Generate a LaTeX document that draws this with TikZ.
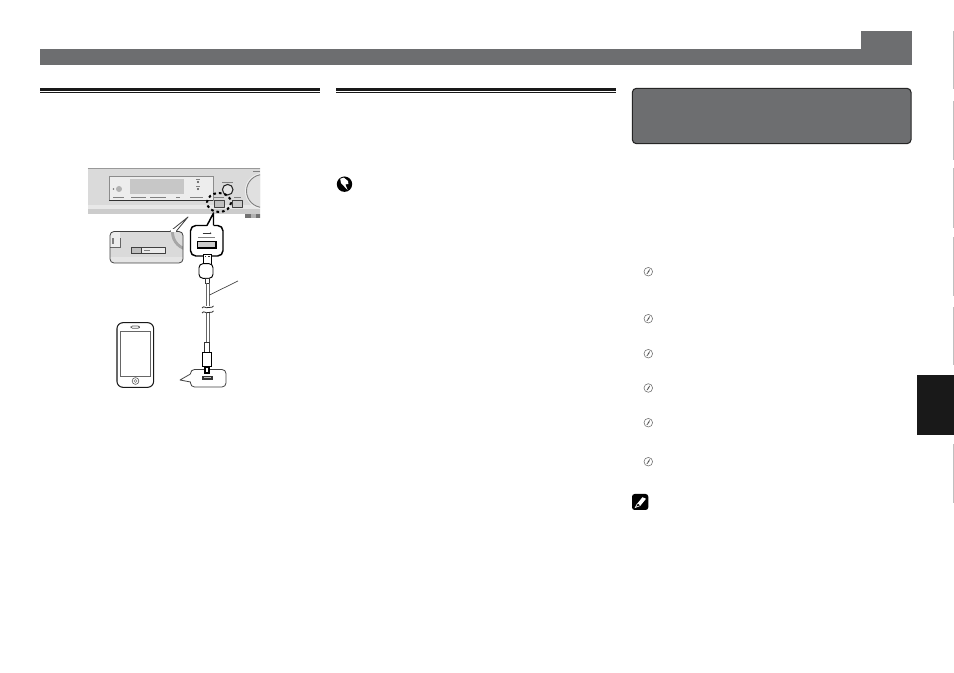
\documentclass[tikz,border=0pt]{standalone}
\definecolor{pagegray}{HTML}{6D6E70}
\definecolor{panelgray}{HTML}{DADADA}
\tikzset{
  band/.style={fill=pagegray,draw=none},
  sideline/.style={draw=black!25,line width=.9pt},
  device/.style={draw=black!75,line width=.45pt,line join=round},
  callout/.style={draw=black!75,line width=.6pt,rounded corners=3pt,line join=round},
  fineprint/.style={fill=black!50,draw=none},
  cable/.style={draw=black!60,line width=.55pt},
}
\newcommand{\tipmark}[2]{%
  \draw[black!55,line width=.45pt] (#1,#2) circle (4.3);
  \draw[black!70,line width=.5pt] (#1+1.5,#2-2.2) -- (#1-.1,#2) -- (#1+.4,#2) -- (#1-1.5,#2+2.2);
}
\begin{document}
\begin{tikzpicture}[x=.75pt,y=-.75pt]
  \useasboundingbox (0,0) rectangle (954,673);

  % header
  \fill[band] (40,49) rectangle (912,65);
  \fill[band] (861,31) rectangle (912,49);

  % column rules
  \foreach \xa/\xb in {40/320,336/616} {
    \fill[black!90] (\xa,88.3) rectangle (\xb,90.8);
    \fill[black!90] (\xa,91.7) rectangle (\xb,92.4);
  }

  % grey title box
  \node[draw=black!85,line width=.8pt,fill=pagegray,rounded corners=3pt,minimum width=209pt,
        minimum height=41.5pt,inner sep=0pt] (titlebox) at (771.7,116) {};

  % side tabs
  \foreach \ya/\yb in {31/89.5,101/160,168/228,237/296,307/365,444/503}
    \draw[sideline] (953.2,\ya) -- (953.2,\yb);
  \fill[black!90] (917,375) rectangle (954,435);

  % receiver front panel
  \begin{scope}
    \clip (87,160) rectangle (260,225);
    \fill[panelgray] (87.5,169) rectangle (262,205);
    \fill[black!9] (87.5,205) rectangle (262,209);
    \fill[black!20] (87.5,209) rectangle (262,214);
    \draw[black!40,line width=.5pt] (87.5,168.8) -- (262,168.8);
    \fill[black!55] (245,214) rectangle (262,218.5);
    \fill[black!30] (251,214) rectangle (256,218.5);
    \fill[black!7] (109.3,176.7) rectangle (213,200.7);
    \draw[black!45,line width=.4pt] (109.3,200.7) -- (109.3,176.7) -- (213,176.7) -- (213,200.7);
    \draw[black!80,line width=.5pt] (109.3,200.7) -- (213,200.7);
    \fill[black!22] (130,179) rectangle (184.3,194);
    \fill[black!30] (119,189) circle (3);
    \fill[black!55] (113.5,189) circle (.9);
    \foreach \xa/\xb in {113/124,131/146,150/166,176/180,190/203}
      \fill[fineprint] (\xa,196.6) rectangle (\xb,198.2);
    \foreach \yy in {182,189}
      \fill[black!70] (198,\yy) circle (1.2);
    \fill[fineprint] (196,178.6) rectangle (200,179.6);
    \fill[fineprint] (196,185.6) rectangle (200,186.6);
    % volume knob and input button
    \fill[black!6] (263,191) circle (18);
    \draw[black!50,line width=.7pt,fill=black!12] (263,191) circle (16.5);
    \fill[fineprint] (253,171) rectangle (260,172.2);
    \draw[black!85,line width=.8pt,fill=black!10] (227.7,189.7) circle (5.3);
    \fill[fineprint] (222,182) rectangle (233,183);
    \fill[fineprint] (234,197.5) rectangle (241,198.5);
    \draw[device,fill=black!20] (232.7,200.5) rectangle (242,207);
    \fill[fineprint] (213.5,197.4) rectangle (224,198.4);
    \draw[device,fill=black!25] (214,200.5) rectangle (224,207);
    \draw[black,line width=1.5pt,dash pattern=on 2pt off 2.2pt] (219,202.5) ellipse (12 and 9.5);
  \end{scope}

  % left callout, enlarged
  \begin{scope}
    \clip[rounded corners=3pt] (110,231.5) rectangle (183,263);
    \fill[panelgray] (110,231) rectangle (183,257);
    \fill[black!10] (110,257) rectangle (183,263);
    \fill[black!7] (110,232) rectangle (120,247);
    \fill[black!35] (190,232) circle (19);
    \fill[panelgray] (190,232) circle (16);
    \draw[black!70,line width=.8pt] (142,231.5) arc[start angle=180,end angle=0,radius=6,y radius=-5];
  \end{scope}
  \draw[black!60,line width=.5pt] (110,247) -- (120,247) -- (120,238);
  \fill[fineprint] (112,238) rectangle (114,244);
  \draw[device,fill=black!8] (131,247.7) rectangle (165.7,253.3);
  \draw[device,fill=black!25] (131,247.7) rectangle (141,253.3);
  \fill[fineprint] (144,250) rectangle (150,251);
  \coordinate (leftA) at (170,231.5);
  \coordinate (leftTip) at (188,217);
  \coordinate (leftB) at (176,231.5);
  \draw[callout] (leftA) -- (110,231.5) -- (110,263) -- (183,263) -- (183,231.5) -- (leftB);
  \draw[black!75,line width=.6pt,line join=round] (leftA) -- (leftTip) -- (leftB);
  \fill[white] (171,229.5) -- (175.5,229.5) -- (175.5,232.5) -- (171,232.5) -- cycle;

  % usb callout, enlarged
  \coordinate (usbA) at (207,225.5);
  \coordinate (usbTip) at (213.5,213);
  \coordinate (usbB) at (213.5,225.5);
  \draw[black,line width=1.1pt,rounded corners=4pt,line join=round]
    (usbA) -- (190.5,225.5) -- (190.5,256) -- (223,256) -- (223,225.5) -- (usbB);
  \draw[black,line width=1.1pt,line join=round] (usbA) -- (usbTip) -- (usbB);
  \draw[black!80,line width=.6pt] (202.5,233.2) -- (210,233.2);
  \fill[black!80] (210.5,233.2) circle (.9);
  \fill[fineprint] (198,236.6) rectangle (215,238);
  \draw[black,line width=.9pt,fill=black!20] (197.3,241.5) rectangle (216,248);

  % usb plug and cable
  \node[draw=black,line width=.7pt,fill=white,minimum width=6pt,minimum height=7.5pt,inner sep=0pt] (usbmetal) at (207,259) {};
  \fill[black!80] (204.5,256) rectangle (205.8,257.5);
  \fill[black!80] (208.2,256) rectangle (209.5,257.5);
  \node[draw=black,line width=.7pt,fill=white,rounded corners=3pt,minimum width=10.5pt,minimum height=11pt,inner sep=0pt] (usbbody) at (206,271) {};
  \draw[black!80,line width=.5pt] (205.3,278) rectangle (209.5,283);
  \foreach \xx in {206,209.5} {
    \draw[cable] (\xx,283) -- (\xx,306.5);
    \draw[cable] (\xx,313) -- (\xx,342);
  }
  \draw[black!85,line width=.6pt] (202,308) .. controls (204,305) and (206,309) .. (208,307.5) .. controls (210,306) and (211,309) .. (213.5,306);
  \draw[black!85,line width=.6pt] (202,313) .. controls (204,310) and (206,314) .. (208,312.5) .. controls (210,311) and (211,314) .. (213.5,311);

  % leader of the cable
  \coordinate (cablePt) at (209.5,295);
  \coordinate (cableEnd) at (238,281);
  \draw[black!75,line width=.5pt] (cablePt) -- (cableEnd);

  % lightning callout
  \coordinate (lowA) at (190.5,374);
  \coordinate (lowTip) at (180,380);
  \coordinate (lowB) at (190.5,382);
  \draw[callout] (lowA) -- (190.5,369.5) -- (226,369.5) -- (226,387) -- (190.5,387) -- (lowB);
  \draw[black!75,line width=.6pt,line join=round] (lowA) -- (lowTip) -- (lowB);
  \fill[black!80] (201.7,376) rectangle (213,380);
  \fill[black!25] (203.5,377.5) rectangle (211,378.5);

  % lightning plug
  \draw[black!80,line width=.5pt,fill=white] (204,342) rectangle (209.3,352);
  \node[draw=black,line width=.7pt,fill=white,minimum width=7.2pt,minimum height=11pt,inner sep=0pt] (lowbody) at (206.8,359.5) {};
  \draw[black,line width=.8pt,fill=white] (205,367) rectangle (209,373);

  % phone
  \node[draw=black!90,line width=.8pt,rounded corners=4.5pt,minimum width=27.5pt,minimum height=48.5pt,inner sep=0pt] (phone) at (135.3,355) {};
  \node[draw=black!60,line width=.4pt,minimum width=22.5pt,minimum height=33.2pt,inner sep=0pt] (screen) at (135.5,353.8) {};
  \draw[black!65,line width=.45pt,rounded corners=1pt] (131,326) rectangle (139.5,328.3);
  \draw[black!65,line width=.45pt] (135.5,381) circle (3.4);
  \draw[black!50,line width=.4pt] (135.5,381) circle (1.5);

  % important mark
  \fill[black] (344.5,184.2) circle (7.7);
  \fill[white] (340.2,178.8) -- (343.8,177.6) -- (348,181) -- (348.4,184) -- (345.4,184.4) -- (347.6,190) -- (343.2,185.4) -- (341,183) -- cycle;

  % tip marks
  \foreach \yy in {271.7,318.7,353.7,388,422.7,461.7} {
    \tipmark{648.3}{\yy}
  }

  % note mark
  \fill[black,rounded corners=2pt] (632,494) rectangle (648.3,510);
  \fill[white] (637.5,503.3) -- (642.5,497.2) -- (646,498.8) -- (640.5,505.5) -- cycle;
  \draw[white,line width=.5pt] (637.5,503.3) -- (635.3,507.5) -- (640.5,505.5);

\end{tikzpicture}
\end{document}
